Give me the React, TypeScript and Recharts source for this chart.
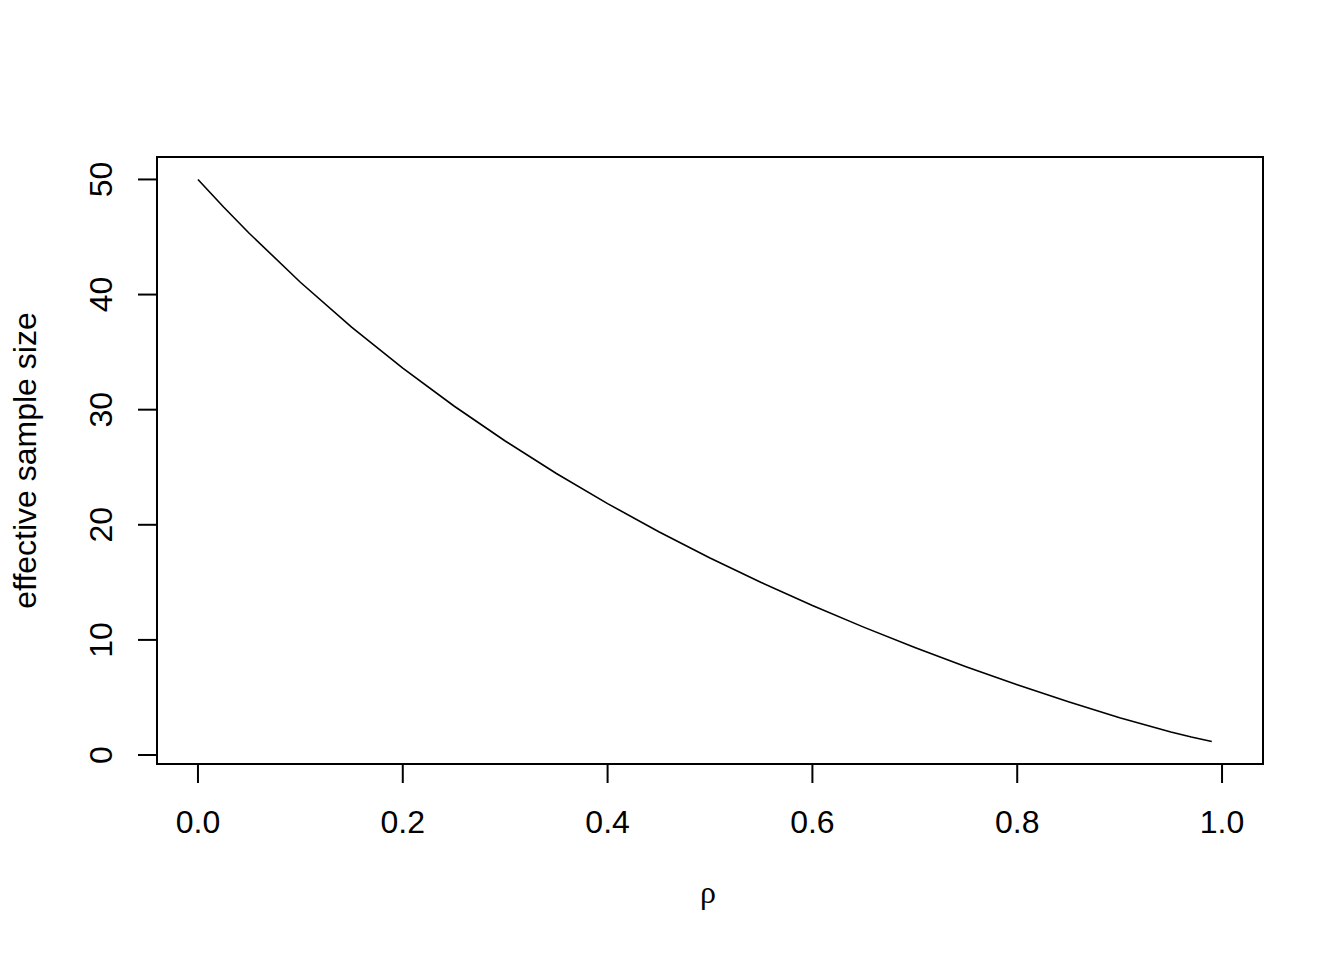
import React from 'react';
import { LineChart, Line, XAxis, YAxis, ReferenceArea } from 'recharts';

const rho = [0, 0.025, 0.05, 0.1, 0.15, 0.2, 0.25, 0.3, 0.35, 0.4, 0.45, 0.5, 0.55, 0.6, 0.65, 0.7, 0.75, 0.8, 0.85, 0.9, 0.95, 0.97, 0.99];
const ess = [50, 47.61, 45.33, 41.07, 37.18, 33.61, 30.32, 27.28, 24.46, 21.84, 19.40, 17.12, 14.99, 12.99, 11.11, 9.34, 7.67, 6.10, 4.62, 3.24, 2.00, 1.56, 1.17];
const xTicks = [0, 0.2, 0.4, 0.6, 0.8, 1.0];
const yTicks = [0, 10, 20, 30, 40, 50];
const xTitle = 'ρ';
const yTitle = 'effective sample size';

const data = rho.map((r, i) => ({ rho: r, ess: ess[i] }));

const FONT = '"Liberation Sans", Arial, sans-serif';
const FS = 32;

const XTick = (props: any) => {
  const { x, y, payload } = props;
  return (
    <text x={x} y={y + 50} textAnchor="middle" fontFamily={FONT} fontSize={FS} fill="#000">
      {Number(payload.value).toFixed(1)}
    </text>
  );
};

const YTick = (props: any) => {
  const { x, y, payload } = props;
  const tx = x - 26;
  return (
    <text x={tx} y={y} textAnchor="middle" transform={`rotate(-90, ${tx}, ${y})`} fontFamily={FONT} fontSize={FS} fill="#000">
      {String(payload.value)}
    </text>
  );
};

export default function App() {
  return (
    <div style={{ position: 'absolute', left: 0, top: 0, background: '#fff' }}>
      <LineChart width={1344} height={960} data={data} margin={{ top: 157, right: 81, bottom: 0, left: 0 }}>
        <XAxis
          dataKey="rho"
          type="number"
          domain={[-0.04, 1.04]}
          ticks={xTicks}
          allowDataOverflow
          height={196}
          axisLine={false}
          tickSize={19}
          tickMargin={0}
          tickLine={{ stroke: '#000', strokeWidth: 2 }}
          tick={<XTick />}
          interval={0}
          label={{
            content: (p: any) => {
              const vb = p.viewBox;
              return (
                <text x={vb.x + vb.width / 2 - 2} y={vb.y + 139} textAnchor="middle" fontFamily='"Liberation Serif", "DejaVu Serif", serif' fontSize={32} fill="#000">
                  {xTitle}
                </text>
              );
            },
          }}
        />
        <YAxis
          type="number"
          domain={[-0.78, 51.95]}
          ticks={yTicks}
          allowDataOverflow
          width={157}
          axisLine={false}
          tickSize={19}
          tickMargin={0}
          tickLine={{ stroke: '#000', strokeWidth: 2 }}
          tick={<YTick />}
          interval={0}
          label={{
            content: (p: any) => {
              const vb = p.viewBox;
              const tx = vb.x + 36;
              const ty = vb.y + vb.height / 2;
              return (
                <text x={tx} y={ty} textAnchor="middle" transform={`rotate(-90, ${tx}, ${ty})`} fontFamily={FONT} fontSize={FS} fill="#000">
                  {yTitle}
                </text>
              );
            },
          }}
        />
        <ReferenceArea x1={-0.04} x2={1.04} y1={-0.78} y2={51.95} fill="none" stroke="#000" strokeWidth={2} ifOverflow="visible" />
        <Line dataKey="ess" type="linear" stroke="#000" strokeWidth={1.6} dot={false} isAnimationActive={false} />
      </LineChart>
    </div>
  );
}
